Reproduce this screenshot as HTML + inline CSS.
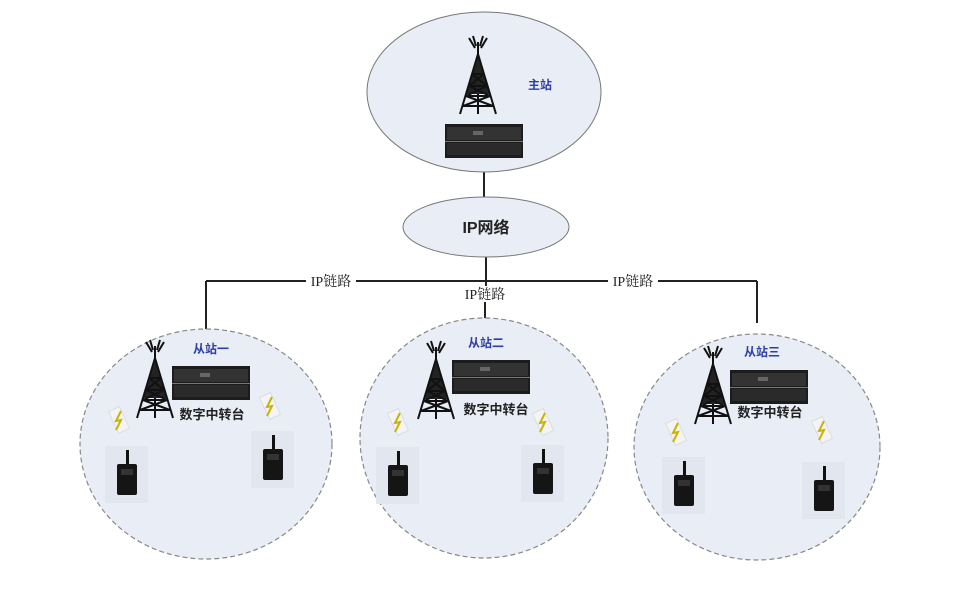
<!DOCTYPE html>
<html><head><meta charset="utf-8"><style>
body{margin:0;background:#fff}
svg text{font-family:"Liberation Sans","Noto Sans CJK SC",sans-serif}
</style></head><body>
<svg width="967" height="591" viewBox="0 0 967 591" xmlns="http://www.w3.org/2000/svg">
<defs>
<g id="tower">
<path d="M0,0 L0,72 M-3,6 L-9,-4 M3,6 L9,-4 M-2,4 L-5,-6 M2,4 L5,-6" stroke="#111" stroke-width="2" fill="none"/>
<path d="M0,12 L-12,52 L12,52 Z" fill="#222"/>
<path d="M0,12 L-18,72 M0,12 L18,72 M-6,32 L6,32 M-9,44 L9,44 M-12,54 L12,54 M-15,64 L15,64 M-6,32 L9,44 M6,32 L-9,44 M-9,44 L12,54 M9,44 L-12,54 M-12,54 L15,64 M12,54 L-15,64" stroke="#111" stroke-width="2" fill="none"/>
</g>
<g id="rack">
<rect x="0" y="0" width="78" height="34" fill="#1c1c1c"/>
<rect x="2" y="3" width="74" height="13" fill="#333"/>
<rect x="2" y="19" width="74" height="12" fill="#2a2a2a"/>
<line x1="0" y1="17.5" x2="78" y2="17.5" stroke="#777" stroke-width="1"/>
<rect x="28" y="7" width="10" height="4" fill="#666"/>
</g>
<g id="radio">
<rect x="-22" y="-28" width="43" height="57" fill="#e2e6ee"/>
<rect x="-1" y="-24" width="3" height="15" fill="#111"/>
<rect x="-10" y="-10" width="20" height="31" rx="2" fill="#151515"/>
<rect x="-6" y="-5" width="12" height="6" fill="#333"/>
</g>
<g id="bolt">
<rect x="-6" y="-12" width="12" height="24" fill="#f4f4f4" stroke="#ddd" transform="rotate(-25)"/>
<path d="M2,-9 L-3,1 L2,0 L-3,10" stroke="#c9b400" stroke-width="2" fill="none"/>
</g>
</defs>
<g stroke="#222" stroke-width="2" fill="none">
<line x1="484" y1="150" x2="484" y2="197"/>
<line x1="486" y1="257" x2="486" y2="281"/>
<line x1="206" y1="281" x2="757" y2="281"/>
<line x1="206" y1="281" x2="206" y2="336"/>
<line x1="757" y1="281" x2="757" y2="323"/>
<line x1="486" y1="281" x2="486" y2="286"/>
<line x1="485" y1="302" x2="485" y2="320"/>
</g>
<ellipse cx="484" cy="92" rx="117" ry="80" fill="#e9edf6" stroke="#777" stroke-width="1"/>
<use href="#tower" x="478" y="42"/>
<use href="#rack" x="445" y="124"/>
<text x="540" y="89" font-size="12" font-weight="bold" fill="#2c3ea8" text-anchor="middle">主站</text>
<ellipse cx="486" cy="227" rx="83" ry="30" fill="#e9edf6" stroke="#777" stroke-width="1"/>
<text x="486" y="233" font-size="16" font-weight="bold" fill="#222" text-anchor="middle">IP网络</text>
<rect x="306" y="272" width="50" height="18" fill="#fff"/>
<text x="331" y="286" font-size="14" fill="#222" text-anchor="middle" style="font-family:'Liberation Serif','Noto Serif CJK SC',serif">IP链路</text>
<rect x="608" y="272" width="50" height="18" fill="#fff"/>
<text x="633" y="286" font-size="14" fill="#222" text-anchor="middle" style="font-family:'Liberation Serif','Noto Serif CJK SC',serif">IP链路</text>
<text x="485" y="299" font-size="14" fill="#222" text-anchor="middle" style="font-family:'Liberation Serif','Noto Serif CJK SC',serif">IP链路</text>
<g stroke="#888" stroke-width="1.2" stroke-dasharray="5,3" fill="#e9edf6">
<ellipse cx="206" cy="444" rx="126" ry="115"/>
<ellipse cx="484" cy="438" rx="124" ry="120"/>
<ellipse cx="757" cy="447" rx="123" ry="113"/>
</g>
<use href="#tower" x="155" y="346"/>
<use href="#rack" x="172" y="366"/>
<text x="211" y="353" font-size="12" font-weight="bold" fill="#2c3ea8" text-anchor="middle">从站一</text>
<text x="212" y="419" font-size="13" font-weight="bold" fill="#222" text-anchor="middle">数字中转台</text>
<use href="#bolt" x="119" y="420"/><use href="#bolt" x="270" y="406"/>
<use href="#radio" x="127" y="474"/><use href="#radio" x="273" y="459"/>
<use href="#tower" x="436" y="347"/>
<use href="#rack" x="452" y="360"/>
<text x="486" y="347" font-size="12" font-weight="bold" fill="#2c3ea8" text-anchor="middle">从站二</text>
<text x="496" y="414" font-size="13" font-weight="bold" fill="#222" text-anchor="middle">数字中转台</text>
<use href="#bolt" x="398" y="422"/><use href="#bolt" x="543" y="422"/>
<use href="#radio" x="398" y="475"/><use href="#radio" x="543" y="473"/>
<use href="#tower" x="713" y="352"/>
<use href="#rack" x="730" y="370"/>
<text x="762" y="356" font-size="12" font-weight="bold" fill="#2c3ea8" text-anchor="middle">从站三</text>
<text x="770" y="417" font-size="13" font-weight="bold" fill="#222" text-anchor="middle">数字中转台</text>
<use href="#bolt" x="676" y="432"/><use href="#bolt" x="822" y="430"/>
<use href="#radio" x="684" y="485"/><use href="#radio" x="824" y="490"/>
</svg>
</body></html>
